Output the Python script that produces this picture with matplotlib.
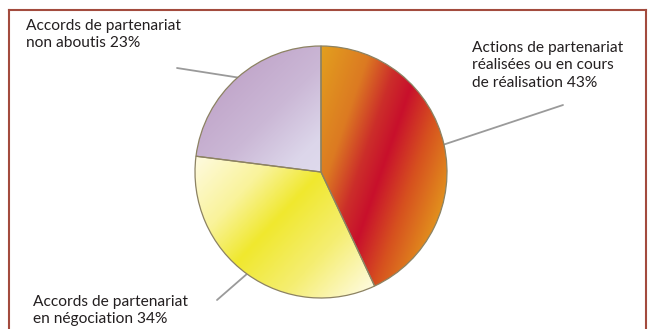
import numpy as np
import matplotlib
matplotlib.use("Agg")
import matplotlib.pyplot as plt
from matplotlib.colors import LinearSegmentedColormap
from matplotlib.lines import Line2D

# Partnership outcomes (percent)
labels = [
    "Actions de partenariat\nréalisées ou en cours\nde réalisation 43%",
    "Accords de partenariat\nen négociation 34%",
    "Accords de partenariat\nnon aboutis 23%",
]
values = [43, 34, 23]

# Gradient stops per slice: (position along direction, colour)
gradients = [
    dict(direction=(0.944, -0.328),
         stops=[(-0.35, "#e3a21e"), (0.05, "#dc7a22"), (0.28, "#cc2e2a"),
                (0.45, "#c8102c"), (0.70, "#d6501f"), (1.00, "#e2901d")]),
    dict(direction=(0.731, -0.682),
         stops=[(-0.85, "#fffbe6"), (-0.35, "#f9f39a"), (0.0, "#f0e82e"),
                (0.45, "#f5ee72"), (0.95, "#fffbe2")]),
    dict(direction=(0.70, -0.71),
         stops=[(-1.05, "#c1a6ca"), (-0.60, "#cbb8d6"), (-0.20, "#dcd6ea"),
                (0.10, "#e0dcee")]),
]

W, H = 654, 329
CX, CY, R = 321, 172, 126  # pie centre / radius in pixels (from top-left)

fig = plt.figure(figsize=(W / 100, H / 100), dpi=100)
fig.patch.set_facecolor("white")
ax = fig.add_axes([0, 0, 1, 1])

wedges, _ = ax.pie(values, startangle=90, counterclock=False, radius=1,
                   wedgeprops=dict(facecolor="none", edgecolor="#8c8262",
                                   linewidth=0.9))

# Fill each wedge with a linear gradient clipped to its outline
n = 400
gx, gy = np.meshgrid(np.linspace(-1.02, 1.02, n), np.linspace(-1.02, 1.02, n))
for w, g in zip(wedges, gradients):
    ux, uy = g["direction"]
    t = gx * ux + gy * uy
    lo, hi = g["stops"][0][0], g["stops"][-1][0]
    cmap = LinearSegmentedColormap.from_list(
        "g", [((p - lo) / (hi - lo), c) for p, c in g["stops"]])
    im = ax.imshow(np.clip((t - lo) / (hi - lo), 0, 1), cmap=cmap,
                   vmin=0, vmax=1, origin="lower",
                   extent=(-1.02, 1.02, -1.02, 1.02), interpolation="bilinear",
                   zorder=1)
    im.set_clip_path(w)
    w.set_zorder(2)

ax.set_xlim(-CX / R, (W - CX) / R)
ax.set_ylim(-(H - CY) / R, CY / R)
ax.set_aspect("auto")
ax.axis("off")

# Leader lines from each wedge's mid-angle to its label
ends_px = [(563, 105), (217, 300), (177, 68)]
for w, (ex, ey) in zip(wedges, ends_px):
    mid = np.deg2rad((w.theta1 + w.theta2) / 2)
    x0, y0 = np.cos(mid), np.sin(mid)
    x1, y1 = (ex - CX) / R, (CY - ey) / R
    ax.plot([x0, x1], [y0, y1], color="#9a9a9a", lw=1.3,
            solid_capstyle="round", zorder=0)

# Labels
text_pos = [(472, 41), (33, 295), (26, 19)]
for lab, (tx, ty) in zip(labels, text_pos):
    fig.text(tx / W, 1 - ty / H, lab, ha="left", va="top",
             fontsize=11.2, family="Lato", color="#231f20", linespacing=1.3)

# Frame
fc = "#a34b3e"
fig.add_artist(Line2D([8.5 / W, 646 / W], [1 - 10 / H, 1 - 10 / H],
                      transform=fig.transFigure, color=fc, lw=1.5))
fig.add_artist(Line2D([8.5 / W, 8.5 / W], [1 - 10 / H, 0],
                      transform=fig.transFigure, color=fc, lw=1.5))
fig.add_artist(Line2D([646 / W, 646 / W], [1 - 10 / H, 0],
                      transform=fig.transFigure, color=fc, lw=1.5))

fig.savefig("out.png", dpi=100, facecolor="white")
